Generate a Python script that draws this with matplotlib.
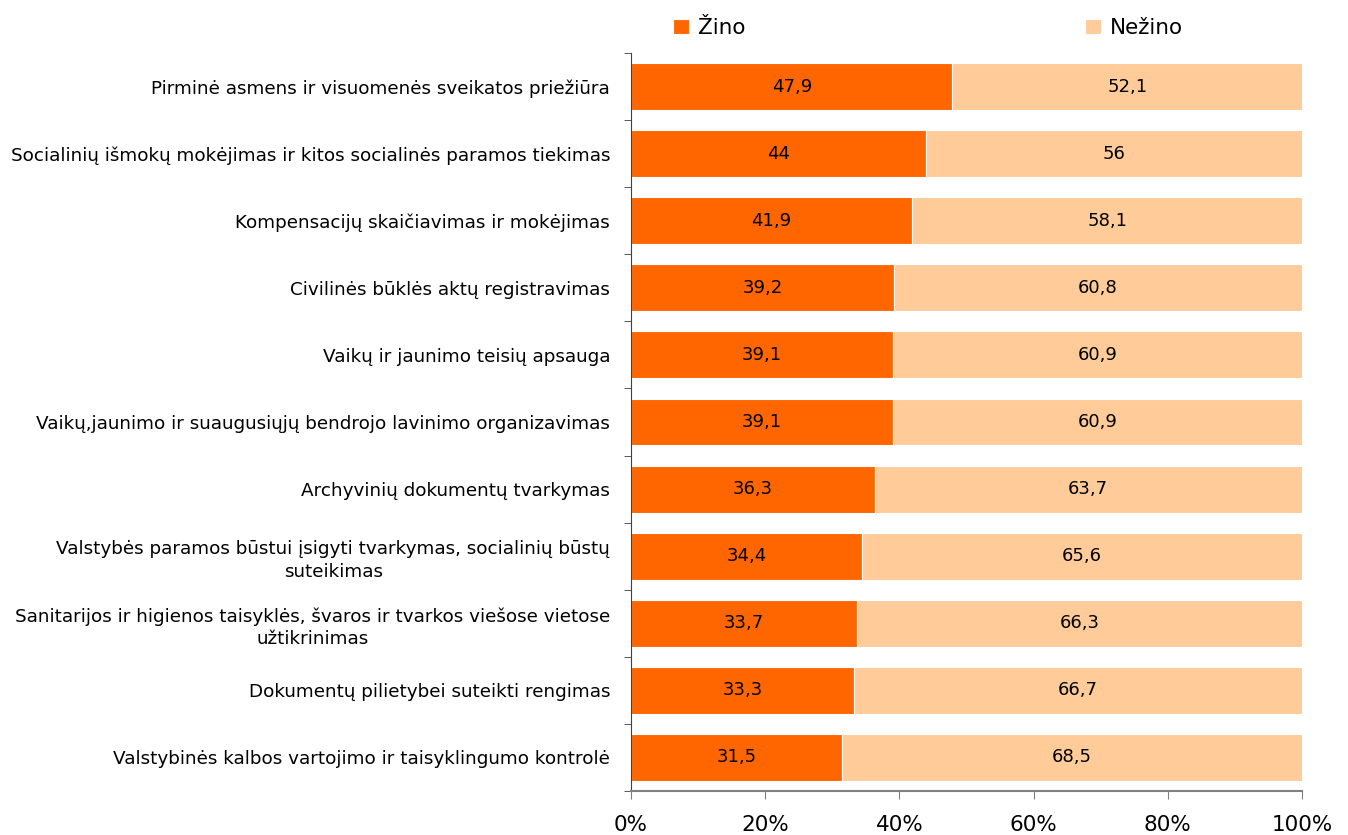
import matplotlib
matplotlib.use("Agg")
import matplotlib.pyplot as plt
import numpy as np

categories = [
    "Pirminė asmens ir visuomenės sveikatos priežiūra",
    "Socialinių išmokų mokėjimas ir kitos socialinės paramos tiekimas",
    "Kompensacijų skaičiavimas ir mokėjimas",
    "Civilinės būklės aktų registravimas",
    "Vaikų ir jaunimo teisių apsauga",
    "Vaikų,jaunimo ir suaugusiųjų bendrojo lavinimo organizavimas",
    "Archyvinių dokumentų tvarkymas",
    "Valstybės paramos būstui įsigyti tvarkymas, socialinių būstų\nsuteikimas",
    "Sanitarijos ir higienos taisyklės, švaros ir tvarkos viešose vietose\nužtikrinimas",
    "Dokumentų pilietybei suteikti rengimas",
    "Valstybinės kalbos vartojimo ir taisyklingumo kontrolė",
]
zino = [47.9, 44, 41.9, 39.2, 39.1, 39.1, 36.3, 34.4, 33.7, 33.3, 31.5]
nezino = [52.1, 56, 58.1, 60.8, 60.9, 60.9, 63.7, 65.6, 66.3, 66.7, 68.5]
series_names = ["Žino", "Nežino"]
colors = ["#FF6600", "#FFCC99"]
x_ticks = [0, 20, 40, 60, 80, 100]

def fmt(v):
    s = f"{v:g}"
    return s.replace(".", ",")

fig = plt.figure(figsize=(13.48, 8.35), dpi=100)
ax = fig.add_axes([631 / 1348, 1 - 791 / 835, (1302 - 631) / 1348, (791 - 53) / 835])

y = np.arange(len(categories))
ax.barh(y, zino, height=0.70, color=colors[0], edgecolor="white",
        linewidth=0.8, label=series_names[0])
ax.barh(y, nezino, left=zino, height=0.70, color=colors[1],
        edgecolor="white", linewidth=0.8, label=series_names[1])

for yi, a, b in zip(y, zino, nezino):
    ax.text(a / 2, yi, fmt(a), ha="center", va="center", fontsize=13)
    ax.text(a + b / 2, yi, fmt(b), ha="center", va="center", fontsize=13)

ax.set_ylim(len(categories) - 0.5, -0.5)
ax.set_xlim(0, 100)
ax.set_yticks(y)
ax.set_yticklabels(categories, fontsize=13.2, multialignment="center",
                   linespacing=1.35)
ax.set_yticks(np.arange(-0.5, len(categories)), minor=True)
ax.tick_params(axis="y", which="major", length=0, pad=15)
ax.tick_params(axis="y", which="minor", length=5, color="#404040")
ax.set_xticks(x_ticks)
ax.set_xticklabels([f"{t}%" for t in x_ticks], fontsize=15.5)
ax.tick_params(axis="x", length=6, color="#808080", pad=11)

for s in ["top", "right"]:
    ax.spines[s].set_visible(False)
ax.spines["left"].set_color("#404040")
ax.spines["bottom"].set_color("#808080")
ax.spines["bottom"].set_linewidth(1.5)

ax.legend(loc="lower left", bbox_to_anchor=(0.04, 1.0), ncol=2,
          frameon=False, fontsize=15.5, handlelength=0.75, handleheight=0.75,
          handletextpad=0.4, columnspacing=15.8, borderaxespad=0.3)

fig.savefig("out.png", dpi=100)
